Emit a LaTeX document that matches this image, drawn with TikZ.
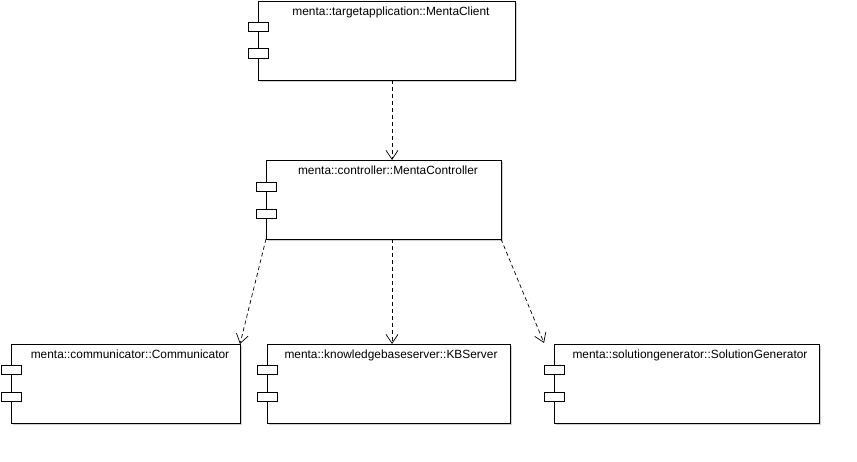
\documentclass[tikz,border=0pt]{standalone}
\usepackage{fontspec}
\setmainfont{Liberation Sans}
\usetikzlibrary{arrows.meta}
\begin{document}
\begin{tikzpicture}[x=1pt,y=-1pt,
  comp/.style={draw=black,line width=0.9pt,fill=white},
  shadowbox/.style={fill=black!18,draw=none},
  port/.style={draw=black,line width=0.9pt,fill=white},
  lbl/.style={font=\fontsize{11.9}{14}\selectfont,inner sep=0pt,anchor=base},
  dep/.style={draw=black,line width=0.7pt,dash pattern=on 4pt off 3pt,-{Straight Barb[length=9pt,width=12pt,line width=0.7pt]}}]
\useasboundingbox (0,0) rectangle (857,462);
% MentaClient
\fill[shadowbox] (260,3) rectangle (517,82);
\draw[comp] (258,1) rectangle (515,80);
\node[lbl] (t1) at (391,15.5) {menta::targetapplication::MentaClient};
\draw[port] (248,22) rectangle (268,31);
\draw[port] (248,48) rectangle (268,58);
\coordinate (c1b) at (392,80);
% MentaController
\fill[shadowbox] (268,162) rectangle (503,241);
\draw[comp] (266,160) rectangle (501,239);
\node[lbl] (t2) at (388,175) {menta::controller::MentaController};
\draw[port] (256,182) rectangle (276,191);
\draw[port] (256,209) rectangle (276,218);
\coordinate (c2t) at (392,160);
\coordinate (c2l) at (266,239);
\coordinate (c2m) at (392,239);
\coordinate (c2r) at (501,239);
% Communicator
\fill[shadowbox] (13,346) rectangle (242,425);
\draw[comp] (11,344) rectangle (240,423);
\node[lbl] (t3) at (130,359) {menta::communicator::Communicator};
\draw[port] (1,365) rectangle (21,374);
\draw[port] (1,392) rectangle (21,401);
\coordinate (c3) at (240,344);
% KBServer
\fill[shadowbox] (269,346) rectangle (512,425);
\draw[comp] (267,344) rectangle (510,423);
\node[lbl] (t4) at (391,359) {menta::knowledgebaseserver::KBServer};
\draw[port] (257,365) rectangle (277,374);
\draw[port] (257,392) rectangle (277,401);
\coordinate (c4) at (392,344);
% SolutionGenerator
\fill[shadowbox] (556,346) rectangle (821,425);
\draw[comp] (554,344) rectangle (819,423);
\node[lbl] (t5) at (690,359) {menta::solutiongenerator::SolutionGenerator};
\draw[port] (544,365) rectangle (564,374);
\draw[port] (544,392) rectangle (564,401);
\coordinate (c5) at (544,343);
% dependencies
\draw[dep] (c1b) -- (c2t);
\draw[dep] (c2l) -- (c3);
\draw[dep] (c2m) -- (c4);
\draw[dep] (c2r) -- (c5);
\end{tikzpicture}
\end{document}
